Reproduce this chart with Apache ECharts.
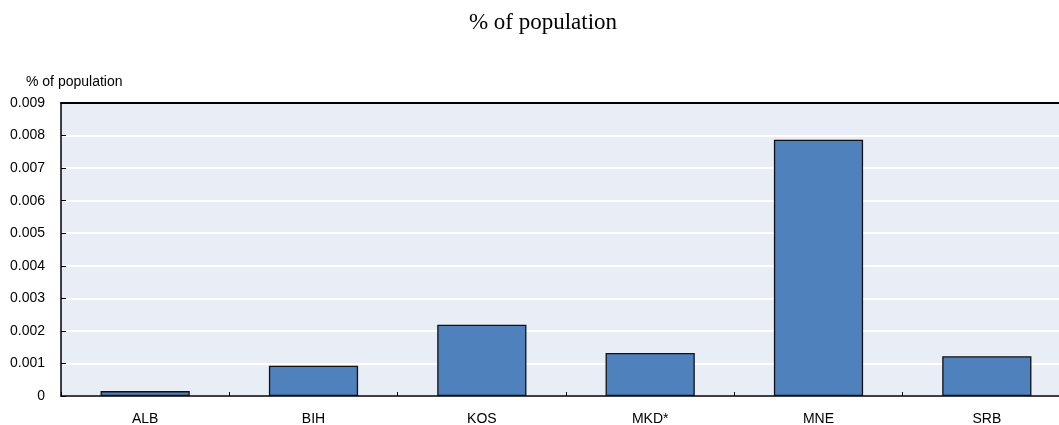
<!DOCTYPE html>
<html>
<head>
<meta charset="utf-8">
<script src="https://cdn.jsdelivr.net/npm/echarts@6/dist/echarts.min.js"></script>
<style>
  html, body { margin: 0; padding: 0; background: #ffffff; }
  #chart { width: 1059px; height: 425px; }
</style>
</head>
<body>
<div id="chart"></div>
<script>
// Economies shown on the category axis
const categories = ['ALB', 'BIH', 'KOS', 'MKD*', 'MNE', 'SRB'];
// Share of population, per economy
const shareOfPopulation = [0.00015, 0.00093, 0.00219, 0.00132, 0.00787, 0.00122];
// Value axis settings
const yMin = 0;
const yMax = 0.009;
const yStep = 0.001;

const chart = echarts.init(document.getElementById('chart'), null, { renderer: 'canvas' });

chart.setOption({
  animation: false,
  backgroundColor: '#ffffff',
  title: [
    {
      text: '% of population',
      left: 538,
      textAlign: 'center',
      top: 6,
      textStyle: { fontFamily: 'Liberation Serif', fontSize: 23, fontWeight: 'normal', color: '#000' }
    },
    {
      text: '% of population',
      left: 21,
      top: 70,
      textStyle: { fontFamily: 'Liberation Sans', fontSize: 14, fontWeight: 'normal', color: '#000' }
    }
  ],
  grid: {
    left: 61,
    top: 103,
    width: 1010,
    height: 293,
    outerBoundsMode: 'none',
    containLabel: false,
    show: true,
    backgroundColor: '#E9EDF5',
    borderWidth: 0
  },
  xAxis: [
    {
      type: 'category',
      data: categories,
      boundaryGap: true,
      axisLine: { show: true, lineStyle: { color: '#000', width: 1.5 } },
      axisTick: { show: true, inside: true, length: 4, lineStyle: { color: '#000', width: 1 } },
      axisLabel: { color: '#000', fontFamily: 'Liberation Sans', fontSize: 14, margin: 16 },
      splitLine: { show: false }
    },
    {
      // frame line along the top of the plot
      type: 'category',
      position: 'top',
      data: categories,
      axisLine: { show: true, lineStyle: { color: '#000', width: 2 } },
      axisTick: { show: false },
      axisLabel: { show: false },
      splitLine: { show: false }
    }
  ],
  yAxis: {
    type: 'value',
    min: yMin,
    max: yMax,
    interval: yStep,
    axisLine: { show: true, lineStyle: { color: '#000', width: 1.5 } },
    axisTick: { show: true, inside: true, length: 5, lineStyle: { color: '#000', width: 1 } },
    axisLabel: {
      color: '#000',
      fontFamily: 'Liberation Sans',
      fontSize: 14,
      margin: 16,
      formatter: function (v) { return v === 0 ? '0' : v.toFixed(3); }
    },
    splitLine: { show: true, lineStyle: { color: '#ffffff', width: 2 } }
  },
  series: [
    {
      type: 'bar',
      xAxisIndex: 0,
      data: shareOfPopulation,
      barWidth: '53%',
      itemStyle: { color: '#4F81BD', borderColor: '#111111', borderWidth: 1.3 }
    }
  ]
});
</script>
</body>
</html>
